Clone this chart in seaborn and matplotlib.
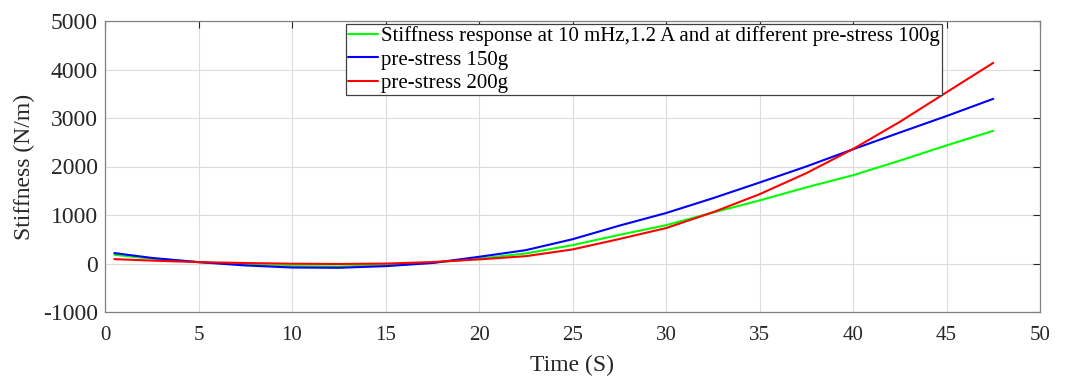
import matplotlib
matplotlib.use("Agg")
import matplotlib.pyplot as plt
import seaborn as sns
import pandas as pd

time_s = [0.5, 2.5, 5, 7.5, 10, 12.5, 15, 17.5, 20, 22.5, 25, 27.5, 30, 32.5, 35, 37.5, 40, 42.5, 45, 47.5]
stiff_100g = [180, 100, 30, -25, -55, -62, -38, 15, 100, 207, 379, 590, 790, 1050, 1300, 1570, 1820, 2120, 2435, 2735]
stiff_150g = [215, 115, 28, -40, -83, -88, -55, 10, 138, 275, 500, 780, 1040, 1345, 1669, 2000, 2355, 2700, 3040, 3395]
stiff_200g = [90, 60, 28, 10, -5, -10, -2, 30, 85, 151, 290, 505, 730, 1055, 1428, 1862, 2360, 2920, 3530, 4137]

labels = ["Stiffness response at 10 mHz,1.2 A and at different pre-stress 100g",
          "pre-stress 150g",
          "pre-stress 200g"]
colors = ["#00ff00", "#0000ff", "#ff0000"]

x_ticks = [0, 5, 10, 15, 20, 25, 30, 35, 40, 45, 50]
y_ticks = [-1000, 0, 1000, 2000, 3000, 4000, 5000]

df = pd.DataFrame({
    "Time": time_s * 3,
    "Stiffness": stiff_100g + stiff_150g + stiff_200g,
    "Series": [labels[0]] * len(time_s) + [labels[1]] * len(time_s) + [labels[2]] * len(time_s),
})

sns.set_style("white")
plt.rcParams["font.family"] = ["Liberation Serif", "DejaVu Serif"]

fig = plt.figure(figsize=(10.67, 3.76), dpi=100)
ax = fig.add_axes([105 / 1067, 1 - 312 / 376, 935 / 1067, 291 / 376])

sns.lineplot(data=df, x="Time", y="Stiffness", hue="Series", hue_order=labels,
             palette=colors, linewidth=1.5, ax=ax, estimator=None, sort=False)

ax.set_xlim(0, 50)
ax.set_ylim(-1000, 5000)
ax.set_xticks(x_ticks)
ax.set_yticks(y_ticks)
ax.set_xticklabels([str(v) for v in x_ticks], fontsize=15, color="#262626")
ax.set_yticklabels([str(v) for v in y_ticks], fontsize=17, color="#262626")
ax.grid(True, color="#dcdcdc", linewidth=0.8)
ax.set_axisbelow(True)
ax.tick_params(direction="in", length=5, width=0.8, color="#262626",
               top=True, right=True)
ax.tick_params(axis="x", pad=10)
ax.tick_params(axis="y", pad=5)
for s in ax.spines.values():
    s.set_visible(True)
    s.set_color("#808080")
    s.set_linewidth(0.9)

ax.set_xlabel("Time (S)", fontsize=17, color="#262626", labelpad=7)
ax.set_ylabel("Stiffness (N/m)", fontsize=17, color="#262626", labelpad=6)

leg = ax.legend(loc="upper left", bbox_to_anchor=(0.2575, 0.99), fontsize=15,
                frameon=True, fancybox=False, framealpha=1, edgecolor="#404040",
                borderpad=0.12, labelspacing=0.18, handlelength=1.45, handletextpad=0.1,
                borderaxespad=0)
leg.get_frame().set_linewidth(0.9)
for t in leg.get_texts():
    t.set_color("#000000")

fig.savefig("out.png", dpi=100)
